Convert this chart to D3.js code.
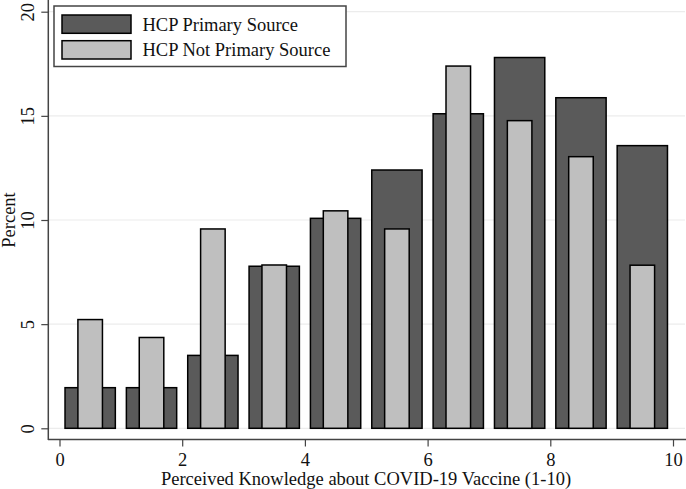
<!DOCTYPE html>
<html>
<head>
<meta charset="utf-8">
<script src="https://cdn.jsdelivr.net/npm/d3@7"></script>
<style>
  html, body { margin: 0; padding: 0; background: #fff; }
  svg { display: block; }
  text { font-family: "Liberation Serif", "Times New Roman", serif; fill: #111; }
</style>
</head>
<body>
<svg id="chart" width="686" height="489"></svg>
<script>
const bins = [1, 2, 3, 4, 5, 6, 7, 8, 9, 10];
const primary = [1.95, 1.95, 3.5, 7.78, 10.08, 12.4, 15.1, 17.8, 15.87, 13.57];
const notPrimary = [5.22, 4.36, 9.57, 7.84, 10.44, 9.57, 17.39, 14.77, 13.04, 7.83];
const xTicks = [0, 2, 4, 6, 8, 10];
const yTicks = [0, 5, 10, 15, 20];
const seriesNames = ["HCP Primary Source", "HCP Not Primary Source"];
const colors = ["#5a5a5a", "#bfbfbf"];
const FS = 18.5;

const svg = d3.select("#chart");
const x = d3.scaleLinear().domain([0, 10]).range([59.5, 673]);
const y = d3.scaleLinear().domain([0, 20]).range([428.3, 11.7]);

// gridlines
svg.append("g").selectAll("line").data(yTicks).join("line")
  .attr("x1", 49).attr("x2", 685)
  .attr("y1", d => y(d)).attr("y2", d => y(d))
  .attr("stroke", "#ececec").attr("stroke-width", 1.2);

// dark bars (primary)
svg.append("g").selectAll("rect").data(bins).join("rect")
  .attr("x", (d) => x(d - 1 + 0.09))
  .attr("width", x(0.82) - x(0))
  .attr("y", (d, i) => y(primary[i]))
  .attr("height", (d, i) => y(0) - y(primary[i]))
  .attr("fill", colors[0]).attr("stroke", "#000").attr("stroke-width", 1.5);

// light bars (not primary)
svg.append("g").selectAll("rect").data(bins).join("rect")
  .attr("x", (d) => x(d - 1 + 0.3))
  .attr("width", x(0.4) - x(0))
  .attr("y", (d, i) => y(notPrimary[i]))
  .attr("height", (d, i) => y(0) - y(notPrimary[i]))
  .attr("fill", colors[1]).attr("stroke", "#000").attr("stroke-width", 1.5);

// axes
const xAxis = d3.axisBottom(x).tickValues(xTicks).tickSize(7).tickPadding(6).tickFormat(d3.format("d"));
const gx = svg.append("g").attr("transform", "translate(0,439.5)").call(xAxis);
gx.attr("font-family", null).attr("font-size", null);
gx.select(".domain").attr("d", "M48,0H686").attr("stroke", "#444").attr("stroke-width", 1.5);
gx.selectAll(".tick line").attr("stroke", "#444").attr("stroke-width", 1.2);
gx.selectAll(".tick text").attr("font-size", FS).attr("fill", "#111");

const yAxis = d3.axisLeft(y).tickValues(yTicks).tickSize(7).tickPadding(5).tickFormat(d3.format("d"));
const gy = svg.append("g").attr("transform", "translate(48.3,0)").call(yAxis);
gy.attr("font-family", null).attr("font-size", null);
gy.select(".domain").attr("d", "M0,0V440").attr("stroke", "#444").attr("stroke-width", 1.5);
gy.selectAll(".tick line").attr("stroke", "#444").attr("stroke-width", 1.2);
gy.selectAll(".tick text")
  .attr("font-size", FS).attr("fill", "#111")
  .attr("text-anchor", "middle").attr("dy", null).attr("x", null)
  .attr("transform", "translate(-14.5,0) rotate(-90)");

// axis titles
svg.append("text").attr("x", 366).attr("y", 484.5).attr("text-anchor", "middle")
  .attr("font-size", FS).text("Perceived Knowledge about COVID-19 Vaccine (1-10)");
svg.append("text").attr("transform", "translate(14.5,220) rotate(-90)").attr("text-anchor", "middle")
  .attr("font-size", FS).text("Percent");

// legend
const lg = svg.append("g");
lg.append("rect").attr("x", 54).attr("y", 6).attr("width", 292).attr("height", 60.5)
  .attr("fill", "#fff").attr("stroke", "#444").attr("stroke-width", 1.5);
seriesNames.forEach((name, i) => {
  lg.append("rect").attr("x", 62).attr("y", 15 + i * 25.7).attr("width", 69).attr("height", 18.3)
    .attr("fill", colors[i]).attr("stroke", "#000").attr("stroke-width", 1.5);
  lg.append("text").attr("x", 142.5).attr("y", 30.5 + i * 25.7).attr("font-size", FS).text(name);
});
</script>
</body>
</html>
